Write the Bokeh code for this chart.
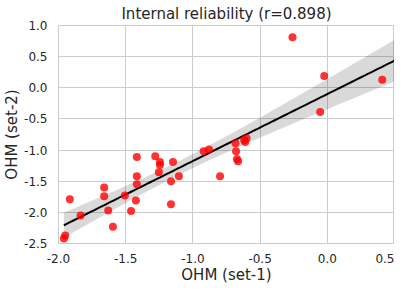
import numpy as np
from bokeh.plotting import figure
from bokeh.models import ColumnDataSource, FixedTicker, Range1d, NumeralTickFormatter
from bokeh.embed import file_html
from bokeh.resources import INLINE

ohm_set1 = [-1.96, -1.95, -1.916, -1.836, -1.66, -1.66, -1.63, -1.595, -1.506, -1.46,
            -1.424, -1.417, -1.417, -1.417, -1.28, -1.245, -1.245, -1.253, -1.148, -1.163,
            -1.104, -1.163, -0.92, -0.88, -0.798, -0.683, -0.679, -0.672, -0.664, -0.619,
            -0.601, -0.611, -0.053, -0.259, -0.023, 0.409]
ohm_set2 = [-2.42, -2.37, -1.79, -2.05, -1.60, -1.74, -1.97, -2.23, -1.73, -1.98,
            -1.81, -1.11, -1.42, -1.55, -1.10, -1.19, -1.24, -1.355, -1.19, -1.50,
            -1.42, -1.87, -1.02, -0.99, -1.42, -0.89, -1.02, -1.145, -1.18, -0.84,
            -0.81, -0.87, -0.39, 0.81, 0.19, 0.13]
x_ticks = [-2.0, -1.5, -1.0, -0.5, 0.0, 0.5]
y_ticks = [-2.5, -2.0, -1.5, -1.0, -0.5, 0.0, 0.5, 1.0]
title_text = "Internal reliability (r=0.898)"
x_label = "OHM (set-1)"
y_label = "OHM (set-2)"

x = np.array(ohm_set1)
y = np.array(ohm_set2)
n = len(x)
b, a = np.polyfit(x, y, 1)
xs = np.linspace(x.min(), x_ticks[-1], 100)
ys = a + b * xs
resid = y - (a + b * x)
s = np.sqrt(np.sum(resid ** 2) / (n - 2))
sxx = np.sum((x - x.mean()) ** 2)
se = s * np.sqrt(1.0 / n + (xs - x.mean()) ** 2 / sxx)
t = 2.032
lo = ys - t * se
hi = ys + t * se

FONT = "DejaVu Sans"
TXT = "#262626"

p = figure(frame_width=336, frame_height=218, output_backend="svg", toolbar_location=None,
           x_range=Range1d(x_ticks[0], x_ticks[-1]), y_range=Range1d(y_ticks[0], y_ticks[-1]),
           min_border_left=0, min_border_right=0, min_border_top=0, min_border_bottom=0)
p.title.text = title_text
p.title.align = "center"
p.title.text_font = FONT
p.title.text_font_size = "15px"
p.title.text_font_style = "normal"
p.title.text_color = TXT
p.title.standoff = 5
p.title.offset = 0

p.background_fill_color = "white"
p.outline_line_color = "#cccccc"
p.outline_line_width = 1

for ax in (p.xaxis[0], p.yaxis[0]):
    ax.axis_line_color = None
    ax.major_tick_line_color = None
    ax.minor_tick_line_color = None
    ax.major_label_text_font = FONT
    ax.major_label_text_font_size = "12px"
    ax.major_label_text_color = TXT
    ax.axis_label_text_font = FONT
    ax.axis_label_text_font_size = "15px"
    ax.axis_label_text_font_style = "normal"
    ax.axis_label_text_color = TXT
    ax.formatter = NumeralTickFormatter(format="0.0")

p.xaxis.ticker = FixedTicker(ticks=x_ticks)
p.yaxis.ticker = FixedTicker(ticks=y_ticks)
p.xaxis.axis_label = x_label
p.yaxis.axis_label = y_label
p.xaxis.major_label_standoff = 4
p.yaxis.major_label_standoff = 5
p.xaxis.axis_label_standoff = 0
p.yaxis.axis_label_standoff = 0

p.xgrid.grid_line_color = "#cccccc"
p.ygrid.grid_line_color = "#cccccc"
p.xgrid.grid_line_width = 1
p.ygrid.grid_line_width = 1

p.varea(x=xs, y1=lo, y2=hi, fill_color="black", fill_alpha=0.15)
p.line(xs, ys, line_color="black", line_width=2)
src = ColumnDataSource(dict(x=ohm_set1, y=ohm_set2))
p.scatter("x", "y", source=src, size=8, fill_color="red", fill_alpha=0.8,
          line_color="red", line_alpha=0.0)

open("out.html", "w").write(file_html(p, INLINE))
print(np.corrcoef(x, y)[0, 1], a, b)
